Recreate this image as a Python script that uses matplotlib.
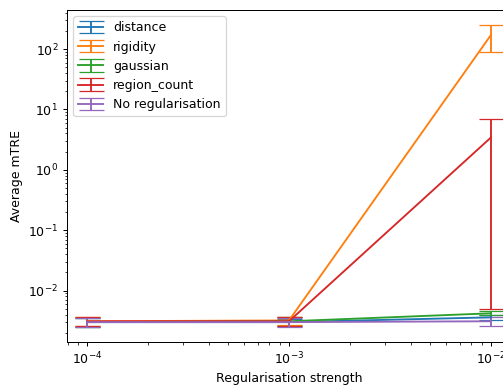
import numpy as np
import matplotlib
matplotlib.use("Agg")
import matplotlib.pyplot as plt

# regularisation strengths
strengths = [1e-4, 1e-3, 1e-2]

# mean mTRE and std for each regulariser
distance = [0.0030, 0.0030, 0.0036]
distance_err = [0.0005, 0.0004, 0.0004]
rigidity = [0.0031, 0.0032, 170.0]
rigidity_err = [0.0005, 0.0005, 80.0]
gaussian = [0.0030, 0.0031, 0.0042]
gaussian_err = [0.0005, 0.0005, 0.0003]
region_count = [0.0031, 0.0031, 3.42]
region_count_err = [0.0005, 0.0005, 3.415]
no_reg = [0.0030, 0.0030, 0.0031]
no_reg_err = [0.0005, 0.0005, 0.0005]

series = [
    ("distance", distance, distance_err),
    ("rigidity", rigidity, rigidity_err),
    ("gaussian", gaussian, gaussian_err),
    ("region_count", region_count, region_count_err),
    ("No regularisation", no_reg, no_reg_err),
]

fig = plt.figure(figsize=(503 / 90, 385 / 90), dpi=90)
ax = fig.add_axes([67 / 503, 43 / 385, 444 / 503, 332 / 385])

for name, vals, err in series:
    ax.errorbar(strengths, vals, yerr=err, capsize=10, label=name)

ax.set_xscale("log")
ax.set_yscale("log")
ax.set_xlabel("Regularisation strength")
ax.set_ylabel("Average mTRE")
ax.legend(loc="upper left")

fig.savefig("out.png", dpi=90)
